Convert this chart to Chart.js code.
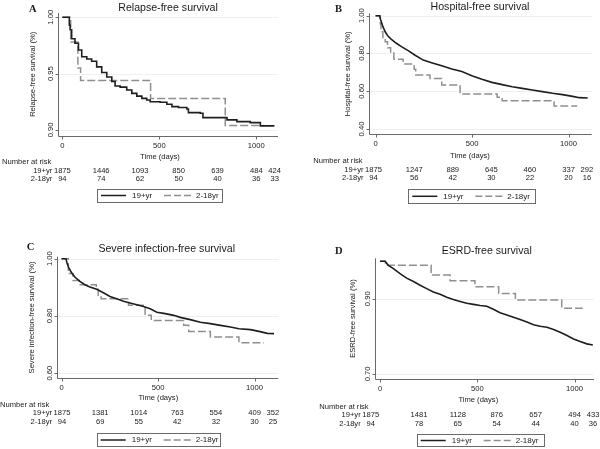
<!DOCTYPE html>
<html>
<head>
<meta charset="utf-8">
<script src="https://cdn.jsdelivr.net/npm/chart.js@4.4.1/dist/chart.umd.min.js"></script>
<style>
  body { margin: 0; background: #fff; }
  canvas { position: absolute; }
</style>
</head>
<body>
<canvas id="chartA" width="300" height="225" style="left:0;top:0"></canvas>
<canvas id="chartB" width="300" height="225" style="left:300px;top:0"></canvas>
<canvas id="chartC" width="300" height="224" style="left:0;top:225px"></canvas>
<canvas id="chartD" width="300" height="224" style="left:300px;top:225px"></canvas>
<script>
// Kaplan-Meier curves, [day, survival]
const xTicks = [0, 500, 1000];
const riskTimes = [0, 200, 400, 600, 800, 1000, 1095];
const groups = ['19+yr', '2-18yr'];

// A - relapse
const relapseAdult = [[0,1.000],[31,1.000],[36,0.993],[40,0.989],[48,0.981],[65,0.977],[83,0.971],[100,0.965],[126,0.963],[151,0.961],[177,0.956],[203,0.951],[229,0.947],[255,0.943],[272,0.939],[298,0.938],[332,0.9355],[358,0.9325],[384,0.930],[410,0.928],[435,0.9266],[453,0.925],[504,0.9246],[539,0.9228],[565,0.9207],[599,0.920],[642,0.9186],[650,0.9154],[711,0.9148],[725,0.911],[849,0.909],[900,0.9074],[969,0.9065],[1021,0.9036],[1090,0.903]];
const relapseChild = [[0,1.000],[43,0.978],[80,0.955],[94,0.944],[455,0.928],[840,0.904],[1040,0.904]];
const relapseRiskAdult = [1875, 1446, 1093, 850, 639, 484, 424];
const relapseRiskChild = [94, 74, 62, 50, 40, 36, 33];
const relapseYTicks = [0.90, 0.95, 1.00];

// B - hospital
const hospitalAdult = [[0,1.000],[21,1.000],[26,0.980],[30,0.968],[38,0.942],[50,0.915],[64,0.892],[82,0.875],[108,0.854],[134,0.836],[169,0.815],[203,0.792],[247,0.765],[290,0.751],[343,0.735],[395,0.718],[447,0.704],[499,0.682],[551,0.663],[603,0.647],[656,0.635],[708,0.624],[760,0.615],[812,0.607],[864,0.598],[917,0.589],[969,0.582],[1021,0.573],[1056,0.566],[1099,0.564]];
const hospitalChild = [[0,1.000],[22,1.000],[24,0.957],[28,0.915],[38,0.883],[50,0.862],[62,0.830],[78,0.808],[95,0.769],[143,0.744],[200,0.716],[208,0.686],[282,0.668],[343,0.633],[438,0.585],[630,0.568],[656,0.550],[925,0.522],[1045,0.522]];
const hospitalRiskAdult = [1875, 1247, 889, 645, 460, 337, 292];
const hospitalRiskChild = [94, 56, 42, 30, 22, 20, 16];
const hospitalYTicks = [0.40, 0.60, 0.80, 1.00];

// C - severe infection
const infectionAdult = [[0,1.000],[23,1.000],[29,0.983],[40,0.965],[52,0.951],[69,0.936],[95,0.921],[121,0.909],[147,0.901],[182,0.893],[217,0.881],[251,0.868],[286,0.860],[321,0.851],[355,0.845],[390,0.839],[425,0.833],[459,0.825],[494,0.813],[537,0.808],[581,0.802],[615,0.795],[667,0.787],[719,0.778],[771,0.773],[823,0.767],[875,0.761],[919,0.755],[979,0.752],[1023,0.746],[1066,0.739],[1101,0.738]];
const infectionChild = [[0,1.000],[35,0.948],[60,0.924],[92,0.909],[180,0.893],[190,0.872],[205,0.860],[347,0.837],[433,0.802],[465,0.784],[633,0.767],[659,0.746],[771,0.726],[919,0.706],[1049,0.706]];
const infectionRiskAdult = [1875, 1381, 1014, 763, 554, 409, 352];
const infectionRiskChild = [94, 69, 55, 42, 32, 30, 25];
const infectionYTicks = [0.60, 0.80, 1.00];

// D - ESRD
const esrdAdult = [[0,1.000],[26,1.000],[43,0.989],[69,0.980],[103,0.967],[137,0.955],[172,0.946],[206,0.936],[240,0.927],[274,0.918],[309,0.912],[343,0.904],[377,0.898],[412,0.893],[446,0.888],[480,0.885],[515,0.882],[549,0.880],[583,0.872],[617,0.863],[652,0.857],[686,0.851],[720,0.845],[755,0.838],[789,0.831],[823,0.827],[858,0.824],[892,0.818],[926,0.811],[961,0.802],[995,0.793],[1029,0.786],[1063,0.780],[1094,0.777]];
const esrdChild = [[0,1.000],[28,0.989],[263,0.963],[360,0.948],[488,0.932],[610,0.914],[696,0.897],[934,0.875],[1042,0.875]];
const esrdRiskAdult = [1875, 1481, 1128, 876, 657, 494, 433];
const esrdRiskChild = [94, 78, 65, 54, 44, 40, 36];
const esrdYTicks = [0.70, 0.90];

const SANS = '"Liberation Sans", Arial, sans-serif';
const INK = '#1a1a1a';
const SOLID = '#1e1e1e';
const DASHED = '#8f8f8f';

// layout of each panel inside its own canvas (pixels)
const panels = [
  { id: 'chartA', letter: 'A', title: 'Relapse-free survival', yTitle: 'Relapse-free survival (%)',
    adult: relapseAdult, child: relapseChild, riskAdult: relapseRiskAdult, riskChild: relapseRiskChild, yTicks: relapseYTicks,
    adultStepped: true,
    area: [57.7, 13, 278, 135.5], xr: [-24, 1112], yr: [0.8951, 1.0038],
    letterPos: [29, 11.8], titlePos: [168, 10.5], xLabY: 146, timePos: [160, 157],
    nr: [2, 162], rows: [171, 179], shift0: 0, legend: [97, 189, 125, 13], yTitleX: 33.3 },
  { id: 'chartB', letter: 'B', title: 'Hospital-free survival', yTitle: 'Hospital-free survival (%)',
    adult: hospitalAdult, child: hospitalChild, riskAdult: hospitalRiskAdult, riskChild: hospitalRiskChild, yTicks: hospitalYTicks,
    adultStepped: false,
    area: [69, 13.3, 291.7, 134.3], xr: [-34, 1120], yr: [0.372, 1.0127],
    letterPos: [35, 11.7], titlePos: [180, 9.5], xLabY: 143.5, timePos: [170, 155.7],
    nr: [13.3, 161], rows: [169.7, 177.7], shift0: -2, legend: [108.3, 189.3, 126.7, 14], yTitleX: 48.3 },
  { id: 'chartC', letter: 'C', title: 'Severe infection-free survival', yTitle: 'Severe infection-free survival (%)',
    adult: infectionAdult, child: infectionChild, riskAdult: infectionRiskAdult, riskChild: infectionRiskChild, yTicks: infectionYTicks,
    adultStepped: false,
    area: [56.7, 31.7, 278.3, 153.3], xr: [-25, 1123], yr: [0.582, 1.007],
    letterPos: [26.7, 25], titlePos: [166.7, 27.3], xLabY: 163.3, timePos: [158.3, 173.3],
    nr: [0, 180], rows: [188.3, 196.7], shift0: 0.5, legend: [96.7, 208.3, 123.3, 13.4], yTitleX: 31.7 },
  { id: 'chartD', letter: 'D', title: 'ESRD-free survival', yTitle: 'ESRD-free survival (%)',
    adult: esrdAdult, child: esrdChild, riskAdult: esrdRiskAdult, riskChild: esrdRiskChild, yTicks: esrdYTicks,
    adultStepped: false,
    area: [75, 33.3, 294, 153.8], xr: [-25.7, 1100], yr: [0.687, 1.0077],
    letterPos: [35, 28.5], titlePos: [186.7, 29.3], xLabY: 164, timePos: [178.3, 175],
    nr: [19.3, 181.7], rows: [190, 199], shift0: -9.3, legend: [116.7, 209.3, 126.6, 12.4], yTitleX: 53.3 }
];

// axes, labels, risk table and legend drawn around the chart area
const kmDecor = {
  id: 'kmDecor',
  beforeDatasetsDraw(chart, args, p) {
    const ctx = chart.ctx, a = chart.chartArea, ys = chart.scales.y, xs = chart.scales.x;
    ctx.save();
    ctx.lineWidth = 1;
    ctx.strokeStyle = '#efefef';
    p.yTicks.forEach(v => {
      const y = Math.round(ys.getPixelForValue(v)) + 0.5;
      ctx.beginPath(); ctx.moveTo(a.left, y); ctx.lineTo(a.right, y); ctx.stroke();
    });
    ctx.strokeStyle = '#6a6a6a';
    const lx = Math.round(a.left) + 0.5, by = Math.round(a.bottom) + 0.5;
    ctx.beginPath();
    ctx.moveTo(lx, a.top); ctx.lineTo(lx, by); ctx.lineTo(a.right, by);
    p.yTicks.forEach(v => {
      const y = Math.round(ys.getPixelForValue(v)) + 0.5;
      ctx.moveTo(lx - 3, y); ctx.lineTo(lx, y);
    });
    xTicks.forEach(v => {
      const x = Math.round(xs.getPixelForValue(v)) + 0.5;
      ctx.moveTo(x, by); ctx.lineTo(x, by + 3);
    });
    ctx.stroke();
    ctx.restore();
  },
  afterDraw(chart, args, p) {
    const ctx = chart.ctx, a = chart.chartArea, ys = chart.scales.y, xs = chart.scales.x;
    ctx.save();
    ctx.fillStyle = INK;

    ctx.font = 'bold 10.5px "Liberation Serif", "Times New Roman", serif';
    ctx.textAlign = 'left'; ctx.textBaseline = 'alphabetic';
    ctx.fillText(p.letter, p.letterPos[0], p.letterPos[1]);

    ctx.font = '10.6px ' + SANS;
    ctx.textAlign = 'center';
    ctx.fillText(p.title, p.titlePos[0], p.titlePos[1]);

    ctx.font = '7.6px ' + SANS;
    ctx.textBaseline = 'middle';
    p.yTicks.forEach(v => {
      ctx.save();
      ctx.translate(a.left - 7, ys.getPixelForValue(v));
      ctx.rotate(-Math.PI / 2);
      ctx.fillText(v.toFixed(2), 0, 0);
      ctx.restore();
    });
    ctx.save();
    ctx.translate(p.yTitleX, (a.top + a.bottom) / 2);
    ctx.rotate(-Math.PI / 2);
    ctx.fillText(p.yTitle, 0, 0);
    ctx.restore();

    xTicks.forEach(v => ctx.fillText(String(v), xs.getPixelForValue(v), p.xLabY));
    ctx.fillText('Time (days)', p.timePos[0], p.timePos[1]);

    // number at risk
    ctx.textAlign = 'left';
    ctx.fillText('Number at risk', p.nr[0], p.nr[1]);
    const cols = riskTimes.map((t, i) => xs.getPixelForValue(t) + (i === 0 ? p.shift0 : 0));
    ctx.textAlign = 'right';
    ctx.fillText(groups[0], cols[0] - 10, p.rows[0]);
    ctx.fillText(groups[1], cols[0] - 10, p.rows[1]);
    ctx.textAlign = 'center';
    cols.forEach((x, i) => {
      ctx.fillText(String(p.riskAdult[i]), x, p.rows[0]);
      ctx.fillText(String(p.riskChild[i]), x, p.rows[1]);
    });

    // legend box
    const [bx, byy, bw, bh] = p.legend;
    const cy = byy + bh / 2;
    ctx.strokeStyle = '#6a6a6a'; ctx.lineWidth = 1;
    ctx.strokeRect(Math.round(bx) + 0.5, Math.round(byy) + 0.5, Math.round(bw), Math.round(bh));
    ctx.lineWidth = 1.5;
    ctx.strokeStyle = SOLID;
    ctx.beginPath(); ctx.moveTo(bx + 4, cy); ctx.lineTo(bx + 29, cy); ctx.stroke();
    ctx.strokeStyle = DASHED; ctx.setLineDash([7, 3]);
    ctx.beginPath(); ctx.moveTo(bx + 67, cy); ctx.lineTo(bx + 94, cy); ctx.stroke();
    ctx.setLineDash([]);
    ctx.font = '8px ' + SANS;
    ctx.textAlign = 'left';
    ctx.fillText(groups[0], bx + 35, cy);
    ctx.fillText(groups[1], bx + 99, cy);
    ctx.restore();
  }
};

const toPoints = arr => arr.map(([x, y]) => ({ x, y }));

panels.forEach(p => {
  const [l, t, r, b] = p.area;
  const cv = document.getElementById(p.id);
  new Chart(cv, {
    type: 'line',
    data: {
      datasets: [
        { label: groups[0], data: toPoints(p.adult), stepped: p.adultStepped, borderColor: SOLID, borderWidth: 1.6, pointRadius: 0, fill: false },
        { label: groups[1], data: toPoints(p.child), stepped: true, borderColor: DASHED, borderWidth: 1.5, borderDash: [8, 3], pointRadius: 0, fill: false }
      ]
    },
    options: {
      responsive: false,
      animation: false,
      devicePixelRatio: 1,
      layout: { padding: { left: l, top: t, right: cv.width - r, bottom: cv.height - b } },
      scales: {
        x: { type: 'linear', min: p.xr[0], max: p.xr[1], display: false },
        y: { type: 'linear', min: p.yr[0], max: p.yr[1], display: false }
      },
      plugins: {
        legend: { display: false },
        tooltip: { enabled: false },
        kmDecor: p
      }
    },
    plugins: [kmDecor]
  });
});
</script>
</body>
</html>
